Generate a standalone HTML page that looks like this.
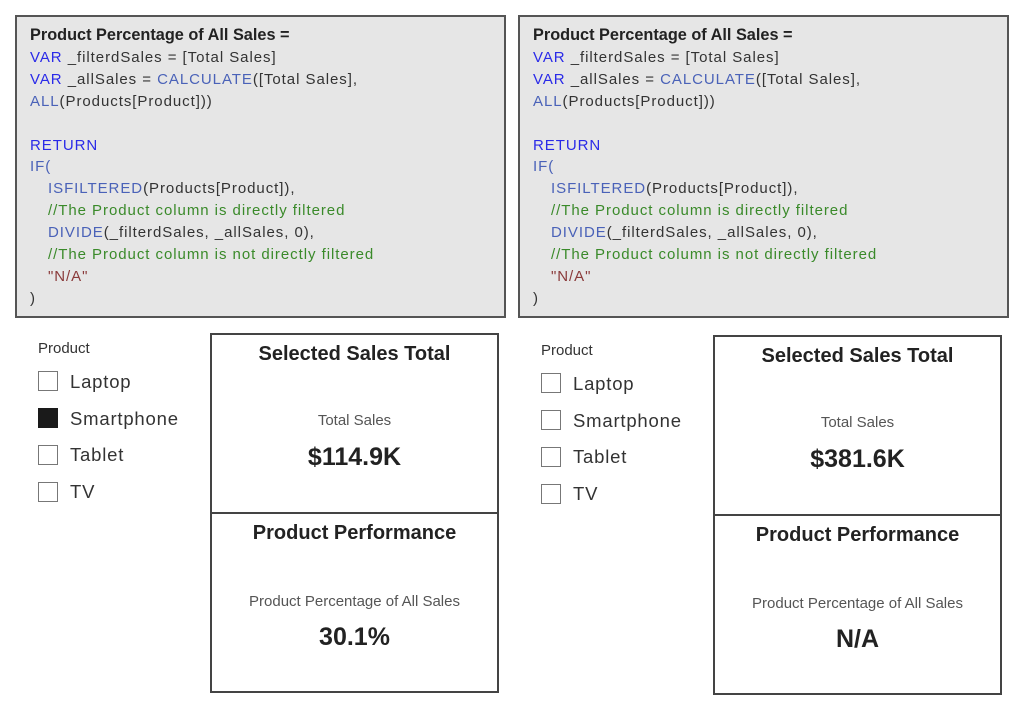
<!DOCTYPE html>
<html><head><meta charset="utf-8"><style>
*{margin:0;padding:0;box-sizing:border-box}
body{width:1023px;height:716px;background:#fff;position:relative;overflow:hidden;font-family:"Liberation Sans",sans-serif}
.code{position:absolute;background:#e6e6e6;border:2px solid #555;width:491px;height:303px}
.code div{position:absolute;font-size:15px;letter-spacing:0.95px;white-space:pre;color:#333;line-height:16px}
.code .t{font-weight:bold;color:#222;font-size:16.3px;letter-spacing:0}
.code .k{color:#2a2ae8}.code .f{color:#4a62b8}.code .c{color:#3a8a2a}.code .s{color:#8a3a3a}
.sl{position:absolute}
.sl .h{position:absolute;font-size:15px;color:#333;left:0;top:0;white-space:nowrap}
.sl .cb{position:absolute;width:20px;height:20px;border:1.5px solid #777;left:0}
.sl .cb.on{background:#1a1a1a;border-color:#1a1a1a}
.sl .l{position:absolute;left:32px;font-size:18.5px;letter-spacing:0.8px;color:#333;white-space:nowrap}
.card{position:absolute;width:289px;height:181px;border:2px solid #444;text-align:center}
.card .ti{position:absolute;left:0;right:0;top:8px;font-weight:bold;font-size:20px;color:#222}
.card .la{position:absolute;left:0;right:0;font-size:15px;color:#555}
.card .va{position:absolute;left:0;right:0;font-weight:bold;font-size:25px;color:#222}
</style></head><body>

<div class="code" style="left:15px;top:15px">
<div class="t" style="left:13px;top:10px">Product Percentage of All Sales =</div>
<div style="left:13px;top:33px"><span class="k">VAR</span> _filterdSales = [Total Sales]</div>
<div style="left:13px;top:55px"><span class="k">VAR</span> _allSales = <span class="f">CALCULATE</span>([Total Sales],</div>
<div style="left:13px;top:77px"><span class="f">ALL</span>(Products[Product]))</div>
<div style="left:13px;top:121px" class="k">RETURN</div>
<div style="left:13px;top:142px" class="f">IF(</div>
<div style="left:31px;top:164px"><span class="f">ISFILTERED</span>(Products[Product]),</div>
<div style="left:31px;top:186px" class="c">//The Product column is directly filtered</div>
<div style="left:31px;top:208px"><span class="f">DIVIDE</span>(_filterdSales, _allSales, 0),</div>
<div style="left:31px;top:230px" class="c">//The Product column is not directly filtered</div>
<div style="left:31px;top:252px" class="s">"N/A"</div>
<div style="left:13px;top:274px">)</div>
</div>

<div class="code" style="left:518px;top:15px">
<div class="t" style="left:13px;top:10px">Product Percentage of All Sales =</div>
<div style="left:13px;top:33px"><span class="k">VAR</span> _filterdSales = [Total Sales]</div>
<div style="left:13px;top:55px"><span class="k">VAR</span> _allSales = <span class="f">CALCULATE</span>([Total Sales],</div>
<div style="left:13px;top:77px"><span class="f">ALL</span>(Products[Product]))</div>
<div style="left:13px;top:121px" class="k">RETURN</div>
<div style="left:13px;top:142px" class="f">IF(</div>
<div style="left:31px;top:164px"><span class="f">ISFILTERED</span>(Products[Product]),</div>
<div style="left:31px;top:186px" class="c">//The Product column is directly filtered</div>
<div style="left:31px;top:208px"><span class="f">DIVIDE</span>(_filterdSales, _allSales, 0),</div>
<div style="left:31px;top:230px" class="c">//The Product column is not directly filtered</div>
<div style="left:31px;top:252px" class="s">"N/A"</div>
<div style="left:13px;top:274px">)</div>
</div>

<div class="sl" style="left:38px;top:340px">
<div class="h">Product</div>
<div class="cb" style="top:31px"></div><div class="l" style="top:31px">Laptop</div>
<div class="cb on" style="top:68px"></div><div class="l" style="top:68px">Smartphone</div>
<div class="cb" style="top:105px"></div><div class="l" style="top:104px">Tablet</div>
<div class="cb" style="top:142px"></div><div class="l" style="top:141px">TV</div>
</div>
<div class="sl" style="left:541px;top:342px">
<div class="h">Product</div>
<div class="cb" style="top:31px"></div><div class="l" style="top:31px">Laptop</div>
<div class="cb" style="top:68px"></div><div class="l" style="top:68px">Smartphone</div>
<div class="cb" style="top:105px"></div><div class="l" style="top:104px">Tablet</div>
<div class="cb" style="top:142px"></div><div class="l" style="top:141px">TV</div>
</div>

<div class="card" style="left:210px;top:333px"><div class="ti">Selected Sales Total</div><div class="la" style="top:77px">Total Sales</div><div class="va" style="top:108px">$114.9K</div></div>
<div class="card" style="left:210px;top:512px"><div class="ti">Product Performance</div><div class="la" style="top:79px">Product Percentage of All Sales</div><div class="va" style="top:109px">30.1%</div></div>
<div class="card" style="left:713px;top:335px"><div class="ti">Selected Sales Total</div><div class="la" style="top:77px">Total Sales</div><div class="va" style="top:108px">$381.6K</div></div>
<div class="card" style="left:713px;top:514px"><div class="ti">Product Performance</div><div class="la" style="top:79px">Product Percentage of All Sales</div><div class="va" style="top:109px">N/A</div></div>
</body></html>
